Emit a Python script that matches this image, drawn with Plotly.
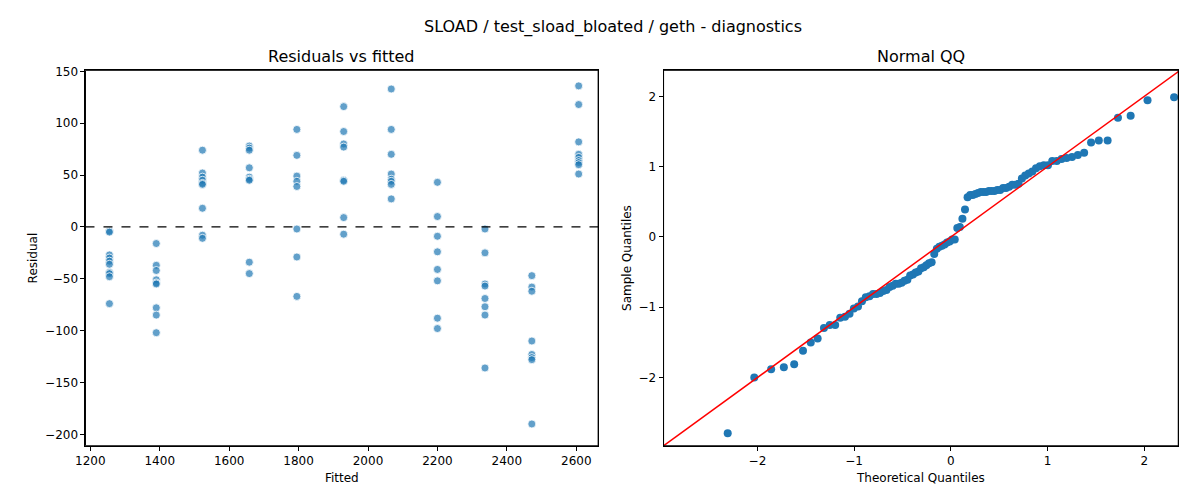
import plotly.graph_objects as go
from statistics import NormalDist, mean, pstdev

fitted_levels = [1255, 1390, 1523, 1658, 1795, 1930, 2067, 2200, 2337, 2472, 2607]
residual_groups = [
    [-4, -5, -27, -30, -33, -36, -44, -45, -48, -74],
    [-16, -37, -42, -51, -54, -55, -78, -85, -102],
    [74, 52, 48, 45, 42, 41, 18, -8, -11],
    [78, 76, 74, 57, 48, 46, 45, -34, -45],
    [94, 69, 49, 44, 39, -2, -29, -67],
    [116, 92, 80, 77, 45, 44, 9, -7],
    [133, 94, 70, 51, 46, 44, 41, 27],
    [43, 10, -9, -24, -41, -52, -88, -98],
    [-2, -25, -55, -57, -69, -77, -85, -136],
    [-47, -58, -62, -110, -123, -126, -128, -190],
    [136, 118, 82, 70, 67, 64, 62, 60, 51],
]

fx, fy = [], []
for f, g in zip(fitted_levels, residual_groups):
    for r in g:
        fx.append(f); fy.append(r)

m, s = mean(fy), pstdev(fy)
sample_q = sorted((r - m) / s for r in fy)
n = len(sample_q)
nd = NormalDist()
theo_q = [nd.inv_cdf(i / (n + 1)) for i in range(1, n + 1)]

blue = "#1f77b4"
font = "DejaVu Sans"
fig = go.Figure()
fig.add_trace(go.Scatter(x=fx, y=fy, mode="markers", xaxis="x", yaxis="y",
    marker=dict(color="rgba(31,119,180,0.7)", size=8, line=dict(color="white", width=0.8)),
    showlegend=False))
fig.add_trace(go.Scatter(x=[1186, 2663], y=[0, 0], mode="lines", xaxis="x", yaxis="y",
    line=dict(color="black", dash="dash", width=1.2), showlegend=False))
fig.add_trace(go.Scatter(x=theo_q, y=sample_q, mode="markers", xaxis="x2", yaxis="y2",
    marker=dict(color=blue, size=8), showlegend=False))
fig.add_trace(go.Scatter(x=[-3, 2.4], y=[-3, 2.4], mode="lines", xaxis="x2", yaxis="y2",
    line=dict(color="red", width=1.5), showlegend=False))

ax = dict(showgrid=False, zeroline=False, showline=True, mirror=True, linecolor="black",
          linewidth=1, ticks="outside", ticklen=4, tickcolor="black",
          tickfont=dict(size=12, color="black"))
ydom = [0.126, 0.886]
fig.update_layout(
    width=1200, height=500, margin=dict(l=0, r=0, t=0, b=0),
    plot_bgcolor="white", paper_bgcolor="white",
    font=dict(family=font, color="black", size=12),
    xaxis=dict(domain=[0.0567, 0.4875], range=[1186, 2663], tickvals=[1200,1400,1600,1800,2000,2200,2400,2600],
               title=dict(text="Fitted", font=dict(size=12), standoff=6), anchor="y", **ax),
    yaxis=dict(domain=ydom, range=[-211, 151], tickvals=[-200,-150,-100,-50,0,50,100,150],
               title=dict(text="Residual", font=dict(size=12), standoff=4), anchor="x", **ax),
    xaxis2=dict(domain=[0.5425, 0.975], range=[-2.97, 2.35], tickvals=[-2,-1,0,1,2],
                title=dict(text="Theoretical Quantiles", font=dict(size=12), standoff=6), anchor="y2", **ax),
    yaxis2=dict(domain=ydom, range=[-2.97, 2.37], tickvals=[-2,-1,0,1,2],
                title=dict(text="Sample Quantiles", font=dict(size=12), standoff=4), anchor="x2", **ax),
    shapes=[
        dict(type="rect", xref="x domain", yref="y domain", x0=0, x1=1, y0=0, y1=1,
             line=dict(color="black", width=1)),
        dict(type="rect", xref="x2 domain", yref="y2 domain", x0=0, x1=1, y0=0, y1=1,
             line=dict(color="black", width=1)),
    ],
    annotations=[
        dict(text="SLOAD / test_sload_bloated / geth - diagnostics", x=0.5, y=0.998, xref="paper", yref="paper",
             showarrow=False, font=dict(size=16), xanchor="center", yanchor="top"),
        dict(text="Residuals vs fitted", x=(0.0567+0.4875)/2, y=1-42.6/500, xref="paper", yref="paper",
             showarrow=False, font=dict(size=16), xanchor="center", yanchor="middle"),
        dict(text="Normal QQ", x=(0.5425+0.975)/2, y=1-42.6/500, xref="paper", yref="paper",
             showarrow=False, font=dict(size=16), xanchor="center", yanchor="middle"),
    ],
)
fig.write_html("out.html")
